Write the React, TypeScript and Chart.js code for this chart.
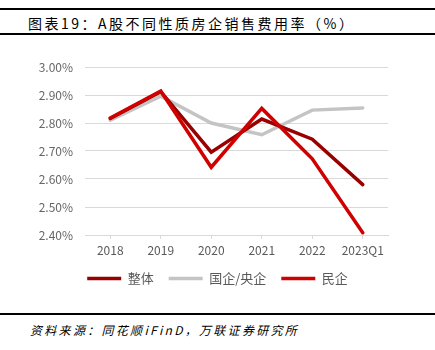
import React, { useEffect, useRef } from "react";
import { Chart, registerables } from "chart.js";

Chart.register(...registerables);

const categories = ["2018", "2019", "2020", "2021", "2022", "2023Q1"];
const overall = [2.816, 2.912, 2.696, 2.814, 2.742, 2.58];
const soe = [2.81, 2.896, 2.8, 2.758, 2.846, 2.854];
const privateEnt = [2.818, 2.914, 2.642, 2.852, 2.672, 2.408];
const seriesNames = ["整体", "国企/央企", "民企"];
const yMin = 2.4;
const yMax = 3.0;
const yStep = 0.1;

const FONT = "'Noto Sans CJK SC', 'Noto Sans', sans-serif";

const centerLegend = {
  id: "centerLegend",
  afterLayout(chart: any) {
    const l = chart.legend;
    if (!l) return;
    const d = chart.width / 2 - (l.left + l.right) / 2;
    l.left += d;
    l.right += d;
  },
};

export default function App() {
  const ref = useRef<HTMLCanvasElement | null>(null);

  useEffect(() => {
    if (!ref.current) return;
    const chart = new Chart(ref.current, {
      type: "line",
      data: {
        labels: categories,
        datasets: [
          {
            label: seriesNames[0],
            data: overall,
            borderColor: "#990000",
            backgroundColor: "#990000",
            borderWidth: 3.5,
            pointRadius: 0,
            tension: 0,
            borderCapStyle: "round",
            order: 1,
          },
          {
            label: seriesNames[1],
            data: soe,
            borderColor: "#C4C4C4",
            backgroundColor: "#C4C4C4",
            borderWidth: 3.5,
            pointRadius: 0,
            tension: 0,
            borderCapStyle: "round",
            order: 2,
          },
          {
            label: seriesNames[2],
            data: privateEnt,
            borderColor: "#D00000",
            backgroundColor: "#D00000",
            borderWidth: 3.5,
            pointRadius: 0,
            tension: 0,
            borderCapStyle: "round",
            order: 0,
          },
        ],
      },
      options: {
        animation: false,
        responsive: true,
        maintainAspectRatio: false,
        layout: { padding: { top: 27, right: 47, left: 0, bottom: 9 } },
        plugins: {
          tooltip: { enabled: false },
          legend: {
            position: "bottom",
            labels: {
              usePointStyle: true,
              pointStyle: "line",
              pointStyleWidth: 34,
              boxHeight: 12,
              padding: 15,
              color: "#595959",
              font: { family: FONT, size: 13 },
              sort: (a: any, b: any) => a.datasetIndex - b.datasetIndex,
            },
          },
        },
        scales: {
          x: {
            offset: true,
            grid: {
              display: true,
              drawOnChartArea: false,
              drawTicks: true,
              tickLength: 4,
              color: "#D9D9D9",
            },
            border: { display: true, color: "#D9D9D9" },
            ticks: {
              color: "#595959",
              font: { family: FONT, size: 12 },
              padding: 4,
              maxRotation: 0,
              autoSkip: false,
            },
            afterFit: (s: any) => {
              s.height = 22;
            },
          },
          y: {
            min: yMin,
            max: yMax,
            grid: { color: "#D9D9D9", drawTicks: false },
            border: { display: false },
            ticks: {
              stepSize: yStep,
              color: "#666666",
              font: { family: FONT, size: 12 },
              padding: 12,
              callback: (v: any) => Number(v).toFixed(2) + "%",
            },
            afterFit: (s: any) => {
              s.width = 85;
            },
          },
        },
      },
      plugins: [centerLegend],
    });
    return () => chart.destroy();
  }, []);

  return (
    <div
      style={{
        position: "absolute",
        left: 0,
        top: 0,
        width: 435,
        height: 350,
        background: "#fff",
        fontFamily: FONT,
      }}
    >
      <div style={{ position: "absolute", left: 0, top: 8, width: 435, height: 2, background: "#000" }} />
      <div
        style={{
          position: "absolute",
          left: 28,
          top: 14,
          fontSize: 14,
          letterSpacing: 2.5,
          lineHeight: "18px",
          color: "#000",
          whiteSpace: "nowrap",
        }}
      >
        图表19：A股不同性质房企销售费用率（%）
      </div>
      <div style={{ position: "absolute", left: 0, top: 33, width: 435, height: 1.5, background: "#000" }} />
      <div style={{ position: "absolute", left: 0, top: 40, width: 435, height: 264 }}>
        <canvas ref={ref} />
      </div>
      <div style={{ position: "absolute", left: 0, top: 313, width: 435, height: 2, background: "#000" }} />
      <div
        style={{
          position: "absolute",
          left: 30,
          top: 322,
          fontSize: 12,
          letterSpacing: 2.3,
          lineHeight: "16px",
          fontStyle: "italic",
          color: "#000",
          whiteSpace: "nowrap",
        }}
      >
        资料来源：同花顺iFinD，万联证券研究所
      </div>
    </div>
  );
}
